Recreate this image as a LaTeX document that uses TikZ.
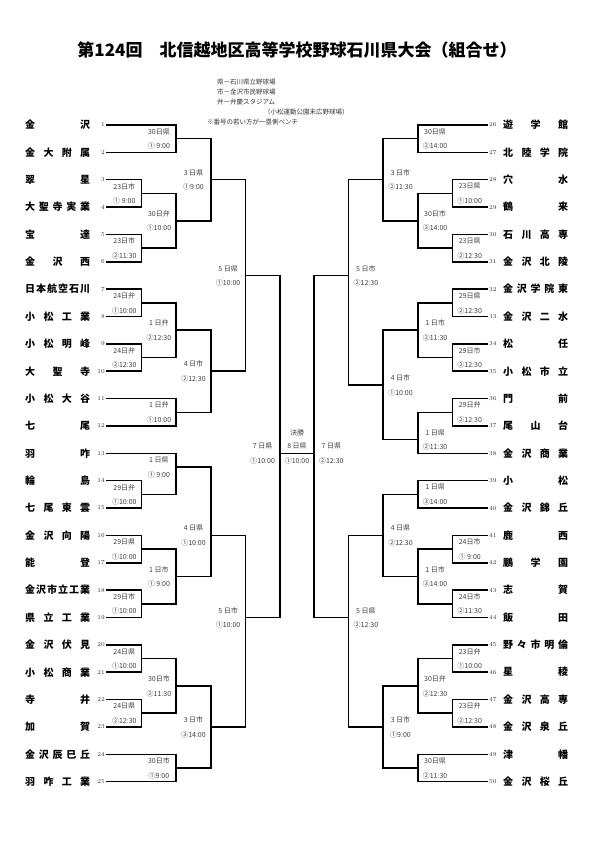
\documentclass[tikz,border=0pt]{standalone}
\usepackage{fontspec}
\newfontfamily\jp{Noto Sans CJK JP}

% spread the characters of a team name over a fixed width
\def\spreadloop#1{\ifx#1\relax\else#1\expandafter\spreadnext\fi}
\def\spreadnext#1{\ifx#1\relax\else\hfill#1\expandafter\spreadnext\fi}
\newcommand\spreadname[1]{\makebox[65pt][s]{\spreadloop#1\relax}}

\tikzset{
  bracket/.style={line width=1.5pt, line cap=rect},
  teamname/.style={font=\jp\bfseries\fontsize{10}{10}\selectfont, inner sep=0pt},
  teamno/.style={font=\fontsize{6}{6}\selectfont, text=black!80, inner sep=0pt},
  lab/.style={font=\jp\fontsize{7}{7}\selectfont, text=black!75, inner sep=0pt},
  legend/.style={font=\jp\fontsize{6.5}{6.5}\selectfont, text=black!80, inner sep=0pt, anchor=west},
}

\begin{document}
\begin{tikzpicture}[x=1pt, y=-1pt]
\useasboundingbox (0,0) rectangle (595,842);

\def\xl{107}
\def\xr{487}
\def\dx{34.6}
\def\yo{125}
\def\hy{13.68}

% number, name, level of the first vertical
\def\lteam#1#2#3{
  \node[teamname, anchor=west] (tl#1) at (25, \yo+#1*2*\hy-2*\hy) {\spreadname{#2}};
  \node[teamno, anchor=east] (nl#1) at (\xl-2, \yo+#1*2*\hy-2*\hy) {#1};
  \draw[bracket] ([xshift=2pt]nl#1.east) -- (\xl+#3*\dx, \yo+#1*2*\hy-2*\hy);
}
\def\rteam#1#2#3{
  \node[teamname, anchor=west] (tr#1) at (503, \yo+#1*2*\hy-52*\hy) {\spreadname{#2}};
  \node[teamno, anchor=west] (nr#1) at (\xr+2, \yo+#1*2*\hy-52*\hy) {#1};
  \draw[bracket] ([xshift=-2pt]nr#1.west) -- (\xr-#3*\dx, \yo+#1*2*\hy-52*\hy);
}
% level, top, bottom, out (in half rows), date, time
\def\lmatch#1#2#3#4#5#6{
  \draw[bracket] (\xl+#1*\dx, \yo+#2*\hy) -- (\xl+#1*\dx, \yo+#3*\hy)
    (\xl+#1*\dx, \yo+#4*\hy) -- (\xl+#1*\dx+\dx, \yo+#4*\hy);
  \node[lab] (dl#1-#4) at (\xl+#1*\dx-0.5*\dx, \yo+#4*\hy-7) {#5};
  \node[lab] (hl#1-#4) at (\xl+#1*\dx-0.5*\dx, \yo+#4*\hy+7.5) {#6};
}
\def\rmatch#1#2#3#4#5#6{
  \draw[bracket] (\xr-#1*\dx, \yo+#2*\hy) -- (\xr-#1*\dx, \yo+#3*\hy)
    (\xr-#1*\dx, \yo+#4*\hy) -- (\xr-#1*\dx-\dx, \yo+#4*\hy);
  \node[lab] (dr#1-#4) at (\xr-#1*\dx+0.5*\dx, \yo+#4*\hy-7) {#5};
  \node[lab] (hr#1-#4) at (\xr-#1*\dx+0.5*\dx, \yo+#4*\hy+7.5) {#6};
}

\node[font=\jp\bfseries\fontsize{17}{17}\selectfont, inner sep=0pt] (title) at (297, 50)
  {第124回　北信越地区高等学校野球石川県大会（組合せ）};

\node[legend] (lg1) at (217, 81.7) {県－石川県立野球場};
\node[legend] (lg2) at (217, 91.7) {市－金沢市民野球場};
\node[legend] (lg3) at (217, 101.7) {弁－弁慶スタジアム};
\node[legend] (lg4) at (264, 111.7) {（小松運動公園末広野球場）};
\node[legend] (lg5) at (207, 121.7) {※番号の若い方が一塁側ベンチ};

\lteam{1}{金沢}{2}
\lteam{2}{金大附属}{2}
\lteam{3}{翠星}{1}
\lteam{4}{大聖寺実業}{1}
\lteam{5}{宝達}{1}
\lteam{6}{金沢西}{1}
\lteam{7}{日本航空石川}{1}
\lteam{8}{小松工業}{1}
\lteam{9}{小松明峰}{1}
\lteam{10}{大聖寺}{1}
\lteam{11}{小松大谷}{2}
\lteam{12}{七尾}{2}
\lteam{13}{羽咋}{2}
\lteam{14}{輪島}{1}
\lteam{15}{七尾東雲}{1}
\lteam{16}{金沢向陽}{1}
\lteam{17}{能登}{1}
\lteam{18}{金沢市立工業}{1}
\lteam{19}{県立工業}{1}
\lteam{20}{金沢伏見}{1}
\lteam{21}{小松商業}{1}
\lteam{22}{寺井}{1}
\lteam{23}{加賀}{1}
\lteam{24}{金沢辰巳丘}{2}
\lteam{25}{羽咋工業}{2}

\rteam{26}{遊学館}{2}
\rteam{27}{北陸学院}{2}
\rteam{28}{穴水}{1}
\rteam{29}{鶴来}{1}
\rteam{30}{石川高専}{1}
\rteam{31}{金沢北陵}{1}
\rteam{32}{金沢学院東}{1}
\rteam{33}{金沢二水}{1}
\rteam{34}{松任}{1}
\rteam{35}{小松市立}{1}
\rteam{36}{門前}{1}
\rteam{37}{尾山台}{1}
\rteam{38}{金沢商業}{2}
\rteam{39}{小松}{2}
\rteam{40}{金沢錦丘}{2}
\rteam{41}{鹿西}{1}
\rteam{42}{鵬学園}{1}
\rteam{43}{志賀}{1}
\rteam{44}{飯田}{1}
\rteam{45}{野々市明倫}{1}
\rteam{46}{星稜}{1}
\rteam{47}{金沢高専}{1}
\rteam{48}{金沢泉丘}{1}
\rteam{49}{津幡}{2}
\rteam{50}{金沢桜丘}{2}

% left half
\lmatch{1}{4}{6}{5}{23日市}{① 9:00}
\lmatch{1}{8}{10}{9}{23日市}{②11:30}
\lmatch{1}{12}{14}{13}{24日弁}{①10:00}
\lmatch{1}{16}{18}{17}{24日弁}{②12:30}
\lmatch{1}{26}{28}{27}{29日弁}{①10:00}
\lmatch{1}{30}{32}{31}{29日県}{①10:00}
\lmatch{1}{34}{36}{35}{29日市}{①10:00}
\lmatch{1}{38}{40}{39}{24日県}{①10:00}
\lmatch{1}{42}{44}{43}{24日県}{②12:30}
\lmatch{2}{0}{2}{1}{30日県}{① 9:00}
\lmatch{2}{5}{9}{7}{30日弁}{①10:00}
\lmatch{2}{13}{17}{15}{1 日弁}{②12:30}
\lmatch{2}{20}{22}{21}{1 日弁}{①10:00}
\lmatch{2}{24}{27}{25}{1 日県}{① 9:00}
\lmatch{2}{31}{35}{33}{1 日市}{① 9:00}
\lmatch{2}{39}{43}{41}{30日市}{②11:30}
\lmatch{2}{46}{48}{47}{30日市}{①9:00}
\lmatch{3}{1}{7}{4}{3 日県}{①9:00}
\lmatch{3}{15}{21}{18}{4 日市}{②12:30}
\lmatch{3}{25}{33}{30}{4 日県}{①10:00}
\lmatch{3}{41}{47}{44}{3 日市}{③14:00}
\lmatch{4}{4}{18}{11}{5 日県}{①10:00}
\lmatch{4}{30}{44}{36}{5 日市}{①10:00}
\lmatch{5}{11}{36}{24}{7 日県}{①10:00}

% right half
\rmatch{1}{4}{6}{5}{23日県}{①10:00}
\rmatch{1}{8}{10}{9}{23日県}{②12:30}
\rmatch{1}{12}{14}{13}{29日県}{②12:30}
\rmatch{1}{16}{18}{17}{29日市}{②12:30}
\rmatch{1}{20}{22}{21}{29日弁}{②12:30}
\rmatch{1}{30}{32}{31}{24日市}{① 9:00}
\rmatch{1}{34}{36}{35}{24日市}{②11:30}
\rmatch{1}{38}{40}{39}{23日弁}{①10:00}
\rmatch{1}{42}{44}{43}{23日弁}{②12:30}
\rmatch{2}{0}{2}{1}{30日県}{②14:00}
\rmatch{2}{5}{9}{7}{30日市}{③14:00}
\rmatch{2}{13}{17}{15}{1 日市}{②11:30}
\rmatch{2}{21}{24}{23}{1 日県}{②11:30}
\rmatch{2}{26}{28}{27}{1 日県}{③14:00}
\rmatch{2}{31}{35}{33}{1 日市}{③14:00}
\rmatch{2}{39}{43}{41}{30日弁}{②12:30}
\rmatch{2}{46}{48}{47}{30日県}{②11:30}
\rmatch{3}{1}{7}{4}{3 日市}{②11:30}
\rmatch{3}{15}{23}{19}{4 日市}{①10:00}
\rmatch{3}{27}{33}{30}{4 日県}{②12:30}
\rmatch{3}{41}{47}{44}{3 日市}{①9:00}
\rmatch{4}{4}{19}{11}{5 日市}{②12:30}
\rmatch{4}{30}{44}{36}{5 日県}{②12:30}
\rmatch{5}{11}{36}{24}{7 日県}{②12:30}

% final
\node[lab] (fin) at (297, \yo+24*\hy-20.5) {決勝};
\node[lab] (findate) at (297, \yo+24*\hy-7) {8 日県};
\node[lab] (fintime) at (297, \yo+24*\hy+7.5) {①10:00};

\end{tikzpicture}
\end{document}
